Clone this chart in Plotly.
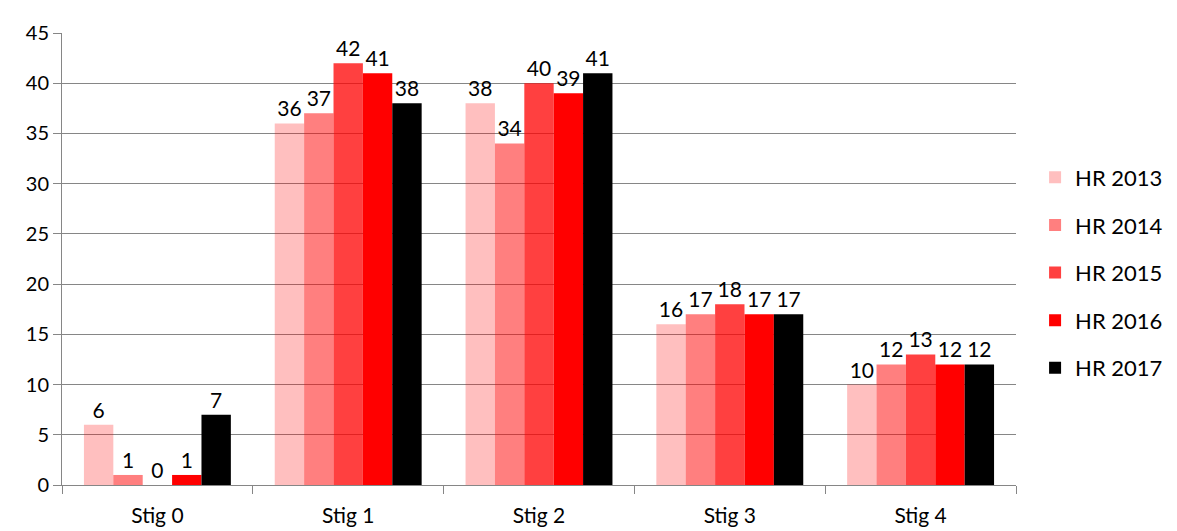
import plotly.graph_objects as go

categories = ['Stig 0', 'Stig 1', 'Stig 2', 'Stig 3', 'Stig 4']
series_names = ['HR 2013', 'HR 2014', 'HR 2015', 'HR 2016', 'HR 2017']
hr_2013 = [6, 36, 38, 16, 10]
hr_2014 = [1, 37, 34, 17, 12]
hr_2015 = [0, 42, 40, 18, 13]
hr_2016 = [1, 41, 39, 17, 12]
hr_2017 = [7, 38, 41, 17, 12]
series_values = [hr_2013, hr_2014, hr_2015, hr_2016, hr_2017]

# transparent reds, so the grid shows through the light bars like in excel
colors = ['rgba(255,0,0,0.25)', 'rgba(255,0,0,0.5)', 'rgba(255,0,0,0.75)',
          'rgba(255,0,0,1)', 'rgba(0,0,0,1)']

font_name = 'Lato'

fig = go.Figure()

for i in range(0, 5):
    fig.add_trace(go.Bar(x=categories, y=series_values[i], name=series_names[i],
                         marker={'color': colors[i], 'line': {'width': 0}},
                         text=[str(v) for v in series_values[i]], textposition='outside',
                         textfont=dict(size=21, color='black', family=font_name),
                         cliponaxis=False, legendgroup=series_names[i]))

# page body has an 8px margin, so margins are shifted by 8px
fig.update_layout(
    barmode='group', bargap=0.23, bargroupgap=0,
    width=1177, height=531,
    margin=dict(l=54, r=169, t=15, b=54),
    plot_bgcolor='white', paper_bgcolor='white',
    font=dict(family=font_name, size=20, color='black'),
    showlegend=True,
    legend=dict(x=1.02, y=0.47, xanchor='left', yanchor='middle', tracegroupgap=16,
                font=dict(size=22, family=font_name), itemwidth=30),
)

fig.update_xaxes(showline=True, linecolor='#868686', linewidth=1, ticks='outside',
                 tickson='boundaries', ticklen=8, tickcolor='#868686', showgrid=False,
                 tickfont=dict(size=21), ticklabelstandoff=12)
fig.update_yaxes(range=[0, 45], dtick=5, showline=True, linecolor='#868686', linewidth=1,
                 ticks='outside', ticklen=8, tickcolor='#868686', showgrid=True,
                 gridcolor='#868686', gridwidth=1, zeroline=False, tickfont=dict(size=20))

fig.write_html("out.html")
